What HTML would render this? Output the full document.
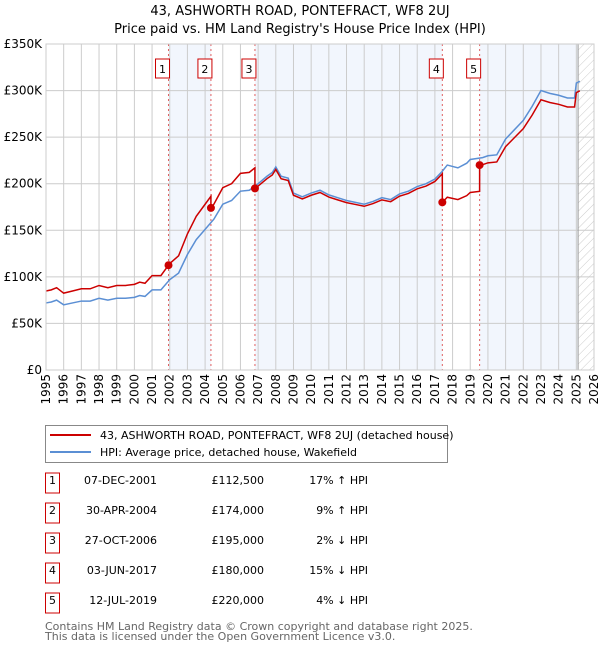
<!DOCTYPE html>
<html><head><meta charset="utf-8"><style>
body{margin:0;width:600px;height:650px;background:#fff;font-family:"Liberation Sans","DejaVu Sans",sans-serif;overflow:hidden}
svg text{font-family:"DejaVu Sans","Liberation Sans",sans-serif}
</style></head><body>
<svg id="chart" width="600" height="650" xmlns="http://www.w3.org/2000/svg">
<defs><pattern id="hatch" width="6" height="6" patternUnits="userSpaceOnUse" patternTransform="rotate(45)"><line x1="0" y1="0" x2="0" y2="6" stroke="#ccc" stroke-width="1"/></pattern></defs>
<text x="300" y="15" text-anchor="middle" font-size="13">43, ASHWORTH ROAD, PONTEFRACT, WF8 2UJ</text>
<text x="300" y="33" text-anchor="middle" font-size="13">Price paid vs. HM Land Registry's House Price Index (HPI)</text>
<g id="plot"></g>
<g>
<rect x="45.5" y="425.5" width="402" height="37" fill="#fff" stroke="#888"/>
<line x1="50" y1="435" x2="91" y2="435" stroke="#cc0000" stroke-width="2"/>
<text x="100" y="439" font-size="11">43, ASHWORTH ROAD, PONTEFRACT, WF8 2UJ (detached house)</text>
<line x1="50" y1="452" x2="91" y2="452" stroke="#5b8fd4" stroke-width="2"/>
<text x="100" y="456" font-size="11">HPI: Average price, detached house, Wakefield</text>
</g>
<g id="table" font-size="11"></g>
<text x="45" y="630" font-size="11" fill="#666">Contains HM Land Registry data © Crown copyright and database right 2025.</text>
<text x="45" y="640" font-size="11" fill="#666">This data is licensed under the Open Government Licence v3.0.</text>
</svg>
<script>
const hpiYears=[1995,1995.3,1995.6,1996,1996.5,1997,1997.5,1998,1998.5,1999,1999.5,2000,2000.3,2000.6,2001,2001.5,2002,2002.5,2003,2003.5,2004,2004.5,2005,2005.5,2006,2006.5,2007,2007.5,2007.8,2008,2008.3,2008.7,2009,2009.5,2010,2010.5,2011,2011.5,2012,2012.5,2013,2013.5,2014,2014.5,2015,2015.5,2016,2016.5,2017,2017.4,2017.7,2018.3,2018.8,2019,2019.7,2020,2020.5,2021,2021.5,2022,2022.5,2023,2023.5,2024,2024.5,2024.9,2025,2025.2];
const hpiValues=[72,73,75,70,72,74,74,77,75,77,77,78,80,79,86,86,97,104,124,140,151,162,178,182,192,193,200,208,212,218,208,206,190,186,190,193,188,185,182,180,178,181,185,183,189,192,197,200,205,213,220,217,222,226,228,230,231,248,258,268,283,300,297,295,292,292,308,310];
const saleDates=[2001.93,2004.33,2006.82,2017.42,2019.53];
const salePrices=[112.5,174,195,180,220];
const saleLabels=["1","2","3","4","5"];
const saleDateText=["07-DEC-2001","30-APR-2004","27-OCT-2006","03-JUN-2017","12-JUL-2019"];
const salePriceText=["£112,500","£174,000","£195,000","£180,000","£220,000"];
const saleHpiText=["17% ↑ HPI","9% ↑ HPI","2% ↓ HPI","15% ↓ HPI","4% ↓ HPI"];
const yTicks=[0,50,100,150,200,250,300,350];
const yTickLabels=["£0","£50K","£100K","£150K","£200K","£250K","£300K","£350K"];
const xTicks=[1995,1996,1997,1998,1999,2000,2001,2002,2003,2004,2005,2006,2007,2008,2009,2010,2011,2012,2013,2014,2015,2016,2017,2018,2019,2020,2021,2022,2023,2024,2025,2026];

const L=46,R=594,T=44,B=370,X0=1995,X1=2026,YMAX=350;
const xs=v=>L+(v-X0)/(X1-X0)*(R-L);
const ys=v=>B-v/YMAX*(B-T);
const NS="http://www.w3.org/2000/svg";
const plot=document.getElementById('plot');
function mk(tag,attrs,parent){const e=document.createElementNS(NS,tag);for(const k in attrs)e.setAttribute(k,attrs[k]);(parent||plot).appendChild(e);return e;}
function hpiAt(t){for(let i=1;i<hpiYears.length;i++){if(t<=hpiYears[i]){const a=hpiYears[i-1],b=hpiYears[i];return hpiValues[i-1]+(hpiValues[i]-hpiValues[i-1])*(t-a)/(b-a);}}return hpiValues[hpiValues.length-1];}

const bg=mk('rect',{x:L,y:T,width:R-L,height:B-T,fill:'#fff'});


const lastData=hpiYears[hpiYears.length-1];
const bands=[[saleDates[0],saleDates[1]],[saleDates[2],saleDates[3]],[saleDates[4],lastData-0.1]];
bands.forEach(b=>{const r=mk('rect',{x:xs(b[0]),y:T,width:xs(b[1])-xs(b[0]),height:B-T,fill:'#f2f6fd'});

});
const hz=mk('rect',{x:xs(lastData-0.1),y:T,width:R-xs(lastData-0.1),height:B-T,fill:'url(#hatch)'});


xTicks.forEach((t,i)=>{const g=mk('line',{x1:xs(t),x2:xs(t),y1:T,y2:B,stroke:'#ccc','stroke-width':1});


const tx=mk('text',{x:0,y:0,'font-size':12,'text-anchor':'end',transform:`translate(${xs(t)+4},${B+4}) rotate(-90)`});tx.textContent=t;

});
yTicks.forEach((v,i)=>{const g=mk('line',{x1:L,x2:R,y1:ys(v),y2:ys(v),stroke:'#ccc','stroke-width':1});


const tx=mk('text',{x:L-4,y:ys(v)+4,'font-size':12,'text-anchor':'end'});tx.textContent=yTickLabels[i];

});
const nowLine=mk('line',{x1:xs(lastData-0.1),x2:xs(lastData-0.1),y1:T,y2:B,stroke:'#999','stroke-width':1});


saleDates.forEach((d,i)=>{const l=mk('line',{x1:xs(d),x2:xs(d),y1:T,y2:B,stroke:'#e06060','stroke-width':1,'stroke-dasharray':'2,3'});


const bx=mk('rect',{x:xs(d)-13,y:59,width:14,height:19,fill:'#fff',stroke:'#cc0000'});


const tx=mk('text',{x:xs(d)-6,y:73,'font-size':11,'text-anchor':'middle'});tx.textContent=saleLabels[i];

});
const hp=mk('polyline',{points:hpiYears.map((t,i)=>xs(t)+','+ys(hpiValues[i])).join(' '),fill:'none',stroke:'#5b8fd4','stroke-width':1.5});


const ratios=saleDates.map((d,i)=>salePrices[i]/hpiAt(d));
const pts=[];
function ratioAt(t){let r=ratios[0];for(let i=0;i<saleDates.length;i++)if(t>=saleDates[i])r=ratios[i];return r;}
const times=hpiYears.slice();saleDates.forEach(d=>{times.push(d-0.001);times.push(d);});times.sort((a,b)=>a-b);
times.forEach(t=>pts.push(xs(t)+','+ys(hpiAt(t)*ratioAt(t))));
const pl=mk('polyline',{points:pts.join(' '),fill:'none',stroke:'#cc0000','stroke-width':1.5});


saleDates.forEach((d,i)=>{const c=mk('circle',{cx:xs(d),cy:ys(salePrices[i]),r:4,fill:'#cc0000'});

});
const fr=mk('rect',{x:L,y:T,width:R-L,height:B-T,fill:'none',stroke:'#ccc'});


const tb=document.getElementById('table');
saleLabels.forEach((s,i)=>{const cy=483+i*30;
const bx=mk('rect',{x:45.5,y:cy-10,width:14,height:20,fill:'#fff',stroke:'#cc0000'},tb);


const cells=[[52.5,'middle',s,'row-number'],[157,'end',saleDateText[i],'row-date'],[264,'end',salePriceText[i],'row-price'],[368,'end',saleHpiText[i],'row-hpi-diff']];
cells.forEach(c=>{const t=mk('text',{x:c[0],y:cy+1,'text-anchor':c[1],'font-size':11},tb);t.textContent=c[2];

});});
</script>
</body></html>
